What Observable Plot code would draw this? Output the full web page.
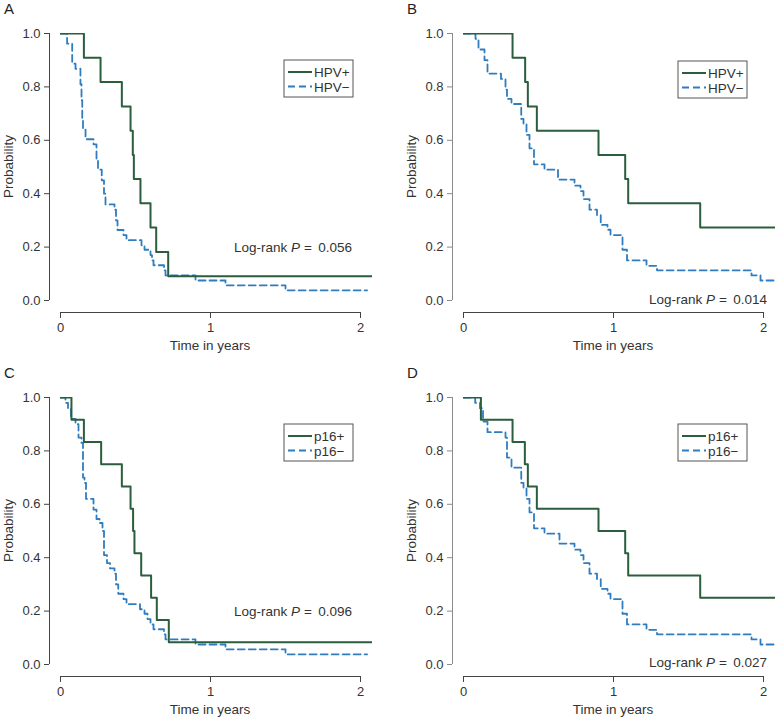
<!DOCTYPE html>
<html><head><meta charset="utf-8">
<script src="https://cdn.jsdelivr.net/npm/d3@7"></script>
<script src="https://cdn.jsdelivr.net/npm/@observablehq/plot@0.6"></script>
<style>
body{margin:0;background:#fff;font-family:"Liberation Sans",Arial,sans-serif;}
#wrap{position:relative;width:776px;height:717px;overflow:hidden;}
.panel{position:absolute;}
</style></head><body><div id="wrap"></div>
<script>
// ---- data (time in years, survival probability after the step) ----
const panelLetters = ["A", "B", "C", "D"];
const seriesLabels = [["HPV+", "HPV\u2212"], ["HPV+", "HPV\u2212"], ["p16+", "p16\u2212"], ["p16+", "p16\u2212"]];
const pValues = ["0.056", "0.014", "0.096", "0.027"];
const xTicks = [0, 1, 2];
const yTicks = [0, 0.2, 0.4, 0.6, 0.8, 1.0];

const A_pos_t = [0, 0.156, 0.267, 0.409, 0.467, 0.482, 0.489, 0.533, 0.6, 0.638, 0.718, 2.078];
const A_pos_s = [1, 0.909, 0.818, 0.727, 0.636, 0.545, 0.455, 0.364, 0.273, 0.182, 0.091, 0.091];
const A_neg_t = [0, 0.044, 0.078, 0.1, 0.133, 0.14, 0.145, 0.15, 0.167, 0.22, 0.24, 0.25, 0.275, 0.29, 0.3, 0.36, 0.37, 0.38, 0.42, 0.44, 0.54, 0.56, 0.6, 0.61, 0.62, 0.69, 0.7, 0.9, 1.1, 1.5, 2.044];
const A_neg_s = [1, 0.962, 0.887, 0.868, 0.81, 0.75, 0.68, 0.64, 0.604, 0.585, 0.53, 0.49, 0.45, 0.40, 0.36, 0.34, 0.30, 0.264, 0.245, 0.226, 0.207, 0.19, 0.17, 0.15, 0.132, 0.113, 0.094, 0.075, 0.057, 0.038, 0.038];

const B_pos_t = [0, 0.327, 0.411, 0.429, 0.489, 0.9, 1.078, 1.098, 1.578, 2.1];
const B_pos_s = [1, 0.909, 0.818, 0.727, 0.636, 0.545, 0.455, 0.364, 0.273, 0.273];
const B_neg_t = [0, 0.08, 0.1, 0.14, 0.16, 0.25, 0.28, 0.29, 0.32, 0.385, 0.4, 0.42, 0.44, 0.47, 0.54, 0.63, 0.74, 0.78, 0.8, 0.84, 0.89, 0.915, 0.96, 0.98, 1.06, 1.09, 1.22, 1.29, 1.92, 1.98, 2.1];
const B_neg_s = [1, 0.98, 0.94, 0.9, 0.85, 0.83, 0.79, 0.755, 0.736, 0.68, 0.66, 0.62, 0.57, 0.51, 0.49, 0.453, 0.43, 0.41, 0.38, 0.34, 0.32, 0.283, 0.265, 0.245, 0.19, 0.15, 0.13, 0.113, 0.094, 0.075, 0.075];

const C_pos_t = [0, 0.073, 0.156, 0.271, 0.409, 0.467, 0.484, 0.493, 0.538, 0.604, 0.642, 0.722, 2.078];
const C_pos_s = [1, 0.917, 0.833, 0.75, 0.667, 0.583, 0.5, 0.417, 0.333, 0.25, 0.167, 0.083, 0.083];
const C_neg_t = [0, 0.033, 0.05, 0.07, 0.1, 0.12, 0.14, 0.15, 0.16, 0.17, 0.22, 0.24, 0.26, 0.28, 0.29, 0.31, 0.33, 0.36, 0.37, 0.385, 0.42, 0.44, 0.53, 0.56, 0.58, 0.6, 0.62, 0.69, 0.7, 0.9, 1.1, 1.5, 2.044];
const C_neg_s = [1, 0.98, 0.96, 0.92, 0.9, 0.85, 0.83, 0.70, 0.68, 0.62, 0.58, 0.545, 0.53, 0.50, 0.41, 0.38, 0.36, 0.34, 0.30, 0.265, 0.245, 0.226, 0.207, 0.19, 0.17, 0.15, 0.132, 0.113, 0.094, 0.075, 0.057, 0.038, 0.038];

const D_pos_t = [0, 0.116, 0.327, 0.409, 0.429, 0.489, 0.9, 1.078, 1.098, 1.578, 2.1];
const D_pos_s = [1, 0.917, 0.833, 0.75, 0.667, 0.583, 0.5, 0.417, 0.333, 0.25, 0.25];
const D_neg_t = [0, 0.078, 0.11, 0.13, 0.16, 0.28, 0.29, 0.32, 0.385, 0.4, 0.42, 0.44, 0.47, 0.54, 0.64, 0.74, 0.78, 0.8, 0.84, 0.89, 0.915, 0.96, 0.98, 1.06, 1.09, 1.22, 1.29, 1.92, 1.98, 2.1];
const D_neg_s = [1, 0.98, 0.96, 0.91, 0.87, 0.85, 0.775, 0.737, 0.68, 0.66, 0.62, 0.57, 0.51, 0.49, 0.453, 0.43, 0.41, 0.38, 0.34, 0.32, 0.283, 0.265, 0.245, 0.19, 0.15, 0.13, 0.113, 0.094, 0.075, 0.075];

const seriesData = [[A_pos_t, A_pos_s, A_neg_t, A_neg_s], [B_pos_t, B_pos_s, B_neg_t, B_neg_s], [C_pos_t, C_pos_s, C_neg_t, C_neg_s], [D_pos_t, D_pos_s, D_neg_t, D_neg_s]];

// ---- layout ----
const GREEN = "#2a5e3c", BLUE = "#2f7dbf", AXIS = "#444";
const FONT = '"Liberation Sans", Arial, sans-serif';
const layout = [
  {left: 0, top: 0, ml: 60, legRight: 353, legTop: 60, pX: 352, pY: 252},
  {left: 403, top: 0, ml: 60, legRight: 344, legTop: 61, pX: 364, pY: 304, axisGray: true},
  {left: 0, top: 364, ml: 60, legRight: 353, legTop: 60, pX: 352, pY: 252},
  {left: 403, top: 364, ml: 60, legRight: 344, legTop: 60, pX: 364, pY: 303, axisGray: true}
];
const wrap = document.getElementById("wrap");
const PXY = 150; // pixels per year

layout.forEach((L, i) => {
  const width = i % 2 === 0 ? 388 : 373;
  const mr = width - L.ml - Math.round(2.08 * PXY);
  const xmax = (width - L.ml - Math.max(mr, 0)) / PXY;
  const [pt, ps, nt, ns] = seriesData[i];
  const pos = pt.map((t, k) => ({t, s: ps[k]}));
  const neg = nt.map((t, k) => ({t, s: ns[k]}));
  const axColor = L.axisGray ? "#8a8a8a" : AXIS;
  const plot = Plot.plot({
    width, height: 358,
    marginLeft: L.ml, marginRight: Math.max(mr, 0), marginTop: 33, marginBottom: 58,
    style: {fontFamily: FONT, fontSize: "13px", color: "#333", background: "transparent", overflow: "visible"},
    x: {domain: [0, xmax]},
    y: {domain: [0, 1]},
    marks: [
      Plot.ruleX([0], {y1: 0, y2: 1, dx: -11, stroke: axColor, strokeWidth: 1}),
      Plot.ruleY([0], {x1: 0, x2: 2, dy: 12, stroke: AXIS, strokeWidth: 1}),
      Plot.axisY({ticks: yTicks, tickFormat: d3.format(".1f"), dx: -11, tickSize: 5, tickPadding: 4, stroke: axColor, fill: "#333", fontSize: 13, label: null}),
      Plot.axisX({ticks: xTicks, tickFormat: d3.format("d"), dy: 12, tickSize: 6, tickPadding: 4, stroke: AXIS, fill: "#333", fontSize: 13, label: null}),
      Plot.line(neg, {x: "t", y: "s", curve: "step-after", stroke: BLUE, strokeWidth: 1.8, strokeDasharray: "7,4", clip: true}),
      Plot.line(pos, {x: "t", y: "s", curve: "step-after", stroke: GREEN, strokeWidth: 2, clip: true})
    ]
  });
  const div = document.createElement("div");
  div.className = "panel";
  div.style.left = L.left + "px";
  div.style.top = L.top + "px";
  div.appendChild(plot);
  wrap.appendChild(div);
  const svg = d3.select(plot);
  const xPlotCenter = L.ml + PXY; // x = 1 year
  // axis titles
  svg.append("text").attr("x", xPlotCenter).attr("y", 350).attr("text-anchor", "middle")
    .attr("font-family", FONT).attr("font-size", 13.5).attr("fill", "#333").text("Time in years");
  svg.append("text").attr("transform", `translate(${L.ml - 47},${166.5}) rotate(-90)`).attr("text-anchor", "middle")
    .attr("font-family", FONT).attr("font-size", 13.5).attr("fill", "#333").text("Probability");
  // panel letter
  svg.append("text").attr("x", L.ml - 56).attr("y", 14).attr("text-anchor", "start").attr("font-family", FONT).attr("font-size", 15)
    .attr("fill", "#222").text(panelLetters[i]);
  // legend
  const lw = 69, lh = 37, lx = L.legRight - lw, ly = L.legTop;
  const g = svg.append("g");
  g.append("rect").attr("x", lx).attr("y", ly).attr("width", lw).attr("height", lh)
    .attr("fill", "white").attr("stroke", "#555").attr("stroke-width", 1);
  [[GREEN, null, 2], [BLUE, "7,4", 1.8]].forEach(([c, dash, sw], k) => {
    const yy = ly + 12 + k * 14.5;
    g.append("line").attr("x1", lx + 4).attr("x2", lx + 28).attr("y1", yy).attr("y2", yy)
      .attr("stroke", c).attr("stroke-width", sw).attr("stroke-dasharray", dash);
    g.append("text").attr("x", lx + 30).attr("y", yy + 5).attr("text-anchor", "start").attr("font-family", FONT).attr("font-size", 13.5)
      .attr("fill", "#333").text(seriesLabels[i][k]);
  });
  // log-rank annotation
  const t = svg.append("text").attr("x", L.pX).attr("y", L.pY).attr("text-anchor", "end")
    .attr("font-family", FONT).attr("font-size", 13.5).attr("fill", "#333");
  t.append("tspan").text("Log-rank ");
  t.append("tspan").attr("font-style", "italic").text("P");
  t.append("tspan").text(" = \u2009" + pValues[i]);
});
</script></body></html>
